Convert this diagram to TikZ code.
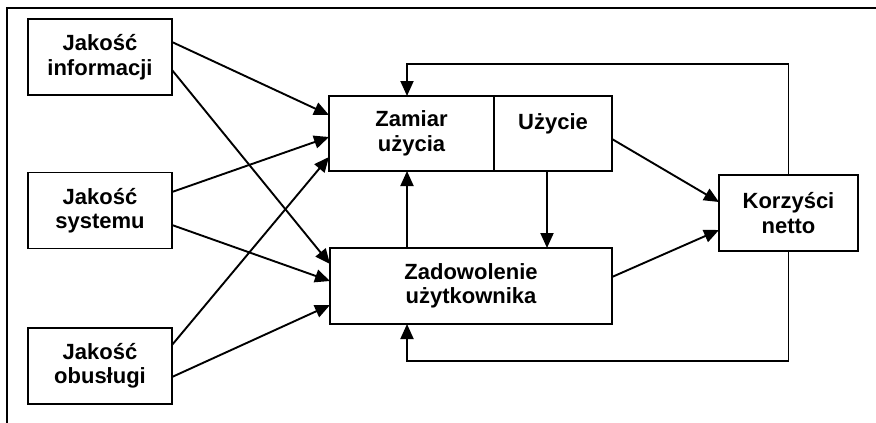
\documentclass[tikz,border=0pt]{standalone}
\usepackage{fontspec}
\setmainfont{Liberation Sans}
\usetikzlibrary{positioning, arrows.meta}
\tikzset{factor/.style={
        draw,
        rectangle,
        line width=1.9pt,
        inner sep=2pt,
        outer sep=0pt,
        align=center,
        minimum height=76pt,
        font=\fontsize{22}{24.5}\selectfont\bfseries
}}
\tikzset{flowedge/.style={draw,line width=1.9pt,-{Triangle[length=15pt,width=13pt]}}}

\begin{document}
\begin{tikzpicture}[x=1pt,y=-1pt]
\useasboundingbox (0,0) rectangle (876,423);
\draw[line width=1.9pt] (876,8) -- (7,8) -- (7,423);

\node[factor, minimum width=144pt] (info) at (100,57) {Jakość\\informacji};
\node[factor, minimum width=144pt] (sys) at (100,210.5) {Jakość\\systemu};
\node[factor, minimum width=144pt] (serv) at (100,366) {Jakość\\obusługi};
\node[factor, minimum width=165pt, minimum height=75pt] (intent) at (411.5,133.5) {Zamiar\\użycia};
\node[factor, minimum width=118pt, minimum height=75pt, right=0pt of intent] (use) {Użycie\\\mbox{}};
\node[factor, minimum width=282pt] (satis) at (471,286) {Zadowolenie\\użytkownika};
\node[factor, minimum width=139pt] (benefit) at (788.5,213) {Korzyści\\netto};

\draw[flowedge] ([yshift=15pt]info.east) -- ([yshift=18.5pt]intent.west);
\draw[flowedge] ([yshift=-13pt]info.east) -- ([yshift=22pt]satis.west);
\draw[flowedge] ([yshift=18.5pt]sys.east) -- ([yshift=-3.5pt]intent.west);
\draw[flowedge] ([yshift=-14.5pt]sys.east) -- ([yshift=5pt]satis.west);
\draw[flowedge] ([yshift=21pt]serv.east) -- ([yshift=-23.5pt]intent.west);
\draw[flowedge] ([yshift=-11pt]serv.east) -- ([yshift=-19pt]satis.west);
\draw[flowedge] ([xshift=-64pt]satis.north) -- ([xshift=-4.5pt]intent.south);
\draw[flowedge] ([xshift=-6pt]use.south) -- ([xshift=76pt]satis.north);
\draw[flowedge] ([yshift=-5.5pt]use.east) -- ([yshift=11pt]benefit.west);
\draw[flowedge] ([yshift=9pt]satis.east) -- ([yshift=-17pt]benefit.west);
\draw[flowedge] (benefit.north) |- ([xshift=-4.5pt,yshift=32pt]intent.north) -- ([xshift=-4.5pt]intent.north);
\draw[flowedge] (benefit.south) |- ([xshift=-64pt,yshift=-37pt]satis.south) -- ([xshift=-64pt]satis.south);
\end{tikzpicture}
\end{document}
